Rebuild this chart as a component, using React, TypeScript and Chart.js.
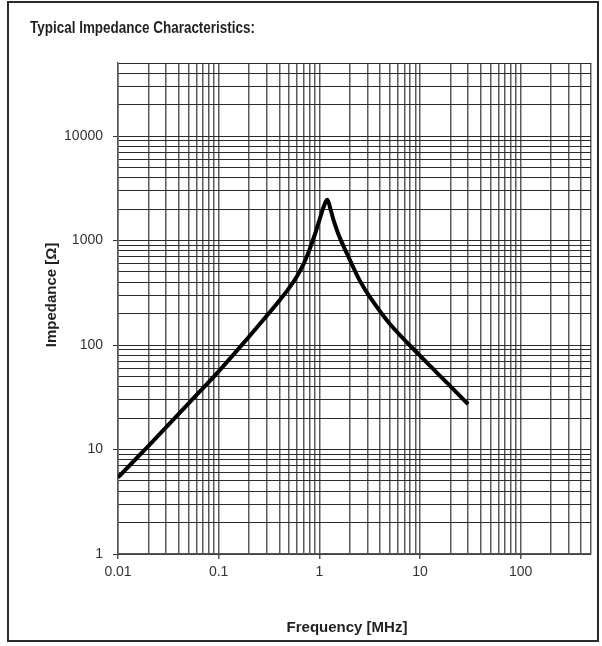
import React, { useEffect, useRef } from "react";
import { Chart, registerables } from "chart.js";

Chart.register(...registerables);

// ---- data ----
const frequencyMHz = [0.01, 0.02, 0.05, 0.1, 0.2, 0.3, 0.4, 0.5, 0.6, 0.7, 0.8, 0.9, 1.0, 1.1, 1.2, 1.3, 1.4, 1.6, 2, 2.5, 3.2, 5, 10, 20, 30];
const impedanceOhm = [5.4, 10.8, 27.5, 56, 120, 190, 265, 350, 455, 600, 820, 1130, 1560, 2080, 2450, 1950, 1520, 1060, 660, 420, 285, 160, 79, 40.5, 27.2];

const xTickLabels = ["0.01", "0.1", "1", "10", "100"];
const yTickLabels = ["1", "10", "100", "1000", "10000"];
const xMin = 0.01;
const xMax = 500;
const yMin = 1;
const yMax = 50000;

const titleText = "Typical Impedance Characteristics:";
const xTitle = "Frequency [MHz]";
const yTitle = "Impedance [Ω]";

function gridValues(min: number, max: number): number[] {
  const out: number[] = [];
  let decade = Math.pow(10, Math.floor(Math.log10(min) + 1e-9));
  while (decade <= max * 1.0001) {
    for (let m = 1; m <= 9; m++) {
      const v = parseFloat((m * decade).toPrecision(6));
      if (v >= min * 0.9999 && v <= max * 1.0001) out.push(v);
    }
    decade *= 10;
  }
  return out;
}

function isPow10(v: number): boolean {
  const l = Math.log10(v);
  return Math.abs(l - Math.round(l)) < 1e-6;
}

function labelFor(v: number, labels: string[]): string {
  if (!isPow10(v)) return "";
  const found = labels.find((s) => Math.abs(parseFloat(s) - v) < v * 1e-6);
  return found ?? "";
}

const PLOT_LEFT = 118;
const PLOT_TOP = 63;
const PLOT_RIGHT = 591;
const PLOT_BOTTOM = 554;
const W = 602;
const H = 646;

const decorPlugin = {
  id: "decor",
  afterDraw(chart: any) {
    const ctx = chart.ctx as CanvasRenderingContext2D;
    ctx.save();
    // outer frame
    ctx.strokeStyle = "#2b2b2b";
    ctx.lineWidth = 2;
    ctx.strokeRect(8, 2, 590, 639);
    // title (condensed bold)
    ctx.fillStyle = "#231f20";
    ctx.font = "bold 16px 'Liberation Sans', Arial, sans-serif";
    ctx.textAlign = "left";
    ctx.textBaseline = "alphabetic";
    const tw = ctx.measureText(titleText).width;
    const sx = 225 / tw;
    ctx.save();
    ctx.translate(30, 33);
    ctx.scale(sx, 1);
    ctx.fillText(titleText, 0, 0);
    ctx.restore();
    // x title
    ctx.font = "bold 15px 'Liberation Sans', Arial, sans-serif";
    ctx.textAlign = "center";
    ctx.textBaseline = "middle";
    ctx.fillText(xTitle, 347, 628);
    // y title
    ctx.translate(52, 295);
    ctx.rotate(-Math.PI / 2);
    ctx.fillText(yTitle, 0, 0);
    ctx.restore();
  },
};

export default function App() {
  const canvasRef = useRef<HTMLCanvasElement | null>(null);

  useEffect(() => {
    if (!canvasRef.current) return;
    const xGrid = gridValues(xMin, xMax);
    const yGrid = gridValues(yMin, yMax);
    const chart = new Chart(canvasRef.current, {
      type: "line",
      data: {
        datasets: [
          {
            data: frequencyMHz.map((f, i) => ({ x: f, y: impedanceOhm[i] })),
            borderColor: "#000",
            borderWidth: 4,
            pointRadius: 0,
            tension: 0.35,
            borderJoinStyle: "round",
            borderCapStyle: "butt",
            fill: false,
          },
        ],
      },
      options: {
        animation: false,
        responsive: false,
        devicePixelRatio: 1,
        layout: { padding: { top: PLOT_TOP, right: W - PLOT_RIGHT, bottom: 0, left: 0 } },
        plugins: { legend: { display: false }, tooltip: { enabled: false }, title: { display: false } },
        scales: {
          x: {
            type: "logarithmic",
            min: xMin,
            max: xMax,
            afterBuildTicks: (s: any) => {
              s.ticks = xGrid.map((v) => ({ value: v, major: isPow10(v) }));
            },
            afterFit: (s: any) => {
              s.height = H - PLOT_BOTTOM;
            },
            ticks: {
              autoSkip: false,
              maxRotation: 0,
              minRotation: 0,
              padding: 5,
              color: "#333",
              font: { family: "'Liberation Sans', Arial, sans-serif", size: 14 },
              callback: (v: any) => labelFor(Number(v), xTickLabels),
            },
            grid: {
              color: "rgba(50,50,50,0.8)",
              lineWidth: 1.5,
              drawTicks: true,
              tickLength: 5,
              tickColor: (c: any) => (c.tick && isPow10(c.tick.value) ? "#555" : "rgba(0,0,0,0)"),
            },
            border: { display: true, color: "#555", width: 1.5 },
          },
          y: {
            type: "logarithmic",
            min: yMin,
            max: yMax,
            afterBuildTicks: (s: any) => {
              s.ticks = yGrid.map((v) => ({ value: v, major: isPow10(v) }));
            },
            afterFit: (s: any) => {
              s.width = PLOT_LEFT;
            },
            ticks: {
              autoSkip: false,
              padding: 10,
              color: "#333",
              font: { family: "'Liberation Sans', Arial, sans-serif", size: 14 },
              callback: (v: any) => labelFor(Number(v), yTickLabels),
            },
            grid: {
              color: "#2a2a2a",
              lineWidth: 1,
              drawTicks: true,
              tickLength: 5,
              tickColor: (c: any) => (c.tick && isPow10(c.tick.value) ? "#333" : "rgba(0,0,0,0)"),
            },
            border: { display: true, color: "#555", width: 1.5 },
          },
        },
      },
      plugins: [decorPlugin],
    } as any);
    return () => chart.destroy();
  }, []);

  return (
    <div style={{ position: "absolute", left: 0, top: 0, width: W, height: H, background: "#fff" }}>
      <canvas ref={canvasRef} width={W} height={H} style={{ display: "block", width: W, height: H }} />
    </div>
  );
}
